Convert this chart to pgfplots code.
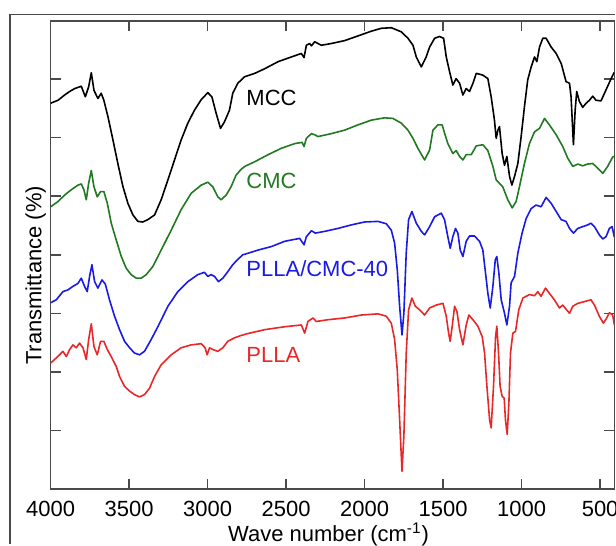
\documentclass[border=0pt]{standalone}
\usepackage{fontspec}
\setmainfont{Liberation Sans}
\usepackage{pgfplots}
\pgfplotsset{compat=1.18}
\definecolor{ftgreen}{HTML}{217A21}
\definecolor{ftblue}{HTML}{1A1AE6}
\definecolor{ftred}{HTML}{E82828}
\definecolor{axgray}{HTML}{4A4A4A}

\begin{document}
\begin{tikzpicture}
\begin{axis}[
 scale only axis,width=282.15pt,height=234.3pt,
 x dir=reverse,xmin=409,xmax=4000,ymin=0,ymax=8,
 xtick={500,1000,...,4000},ytick={1,...,7},yticklabels={},
 tick align=inside,major tick length=5pt,
 axis line style={draw=axgray,line width=0.85pt},
 tick style={draw=axgray,line width=0.75pt},
 font=\fontsize{11}{13}\selectfont,
 /pgf/number format/assume math mode=true,
 /pgf/number format/set thousands separator={},
 xticklabel style={anchor=base,yshift=-14pt,overlay},
 xlabel={Wave number (cm\textsuperscript{-1})},
 ylabel={Transmittance (\%)},
 xlabel style={at={(axis description cs:0.493,-0.1118)},anchor=base,overlay},
 ylabel style={at={(axis description cs:-0.0166,0.456)},anchor=base},
 every axis plot/.append style={line width=0.8pt,line join=round}]
% MCC
\addplot[black] coordinates {
 (4000,6.59) (3953,6.64) (3911,6.73) (3879,6.79) (3847,6.84) (3805,6.88)
 (3779,6.70) (3758,6.87) (3741,7.11) (3724,6.81) (3699,6.67) (3678,6.76)
 (3661,6.64) (3635,6.36) (3603,5.96) (3572,5.56) (3540,5.17) (3508,4.88)
 (3476,4.68) (3444,4.57) (3413,4.56) (3381,4.60) (3338,4.68) (3296,4.94)
 (3253,5.28) (3211,5.62) (3169,5.96) (3126,6.25) (3084,6.47) (3041,6.65)
 (2999,6.77) (2973,6.70) (2946,6.42) (2918,6.16) (2893,6.27) (2861,6.47)
 (2840,6.76) (2808,6.93) (2766,7.04) (2700,7.10) (2636,7.18) (2551,7.30)
 (2467,7.38) (2403,7.44) (2386,7.37) (2371,7.58) (2350,7.61) (2339,7.57)
 (2318,7.64) (2276,7.58) (2212,7.61) (2127,7.66) (2042,7.74) (1958,7.82)
 (1894,7.87) (1830,7.88) (1767,7.81) (1724,7.70) (1692,7.58) (1671,7.38)
 (1639,7.21) (1608,7.38) (1586,7.55) (1554,7.70) (1523,7.73) (1497,7.70)
 (1480,7.38) (1459,7.13) (1438,6.90) (1417,7.01) (1395,6.93) (1374,6.73)
 (1353,6.84) (1332,6.79) (1310,6.93) (1289,7.10) (1247,7.07) (1215,7.01)
 (1194,6.70) (1173,6.30) (1162,5.99) (1151,6.13) (1141,6.19) (1124,5.73)
 (1109,5.53) (1094,5.68) (1077,5.34) (1062,5.19) (1045,5.34) (1024,5.56)
 (1003,6.02) (982,6.53) (961,6.99) (939,7.21) (918,7.38) (903,7.30)
 (886,7.55) (865,7.70) (844,7.70) (812,7.55) (780,7.44) (748,7.27)
 (717,6.96) (695,6.93) (685,6.70) (670,5.88) (659,6.47) (649,6.79)
 (632,6.62) (611,6.52) (589,6.59) (568,6.64) (547,6.71) (526,6.64)
 (494,6.63) (462,6.82) (430,7.01) (409,7.12)};
% CMC
\addplot[ftgreen] coordinates {
 (4000,4.82) (3953,4.91) (3911,5.02) (3869,5.11) (3826,5.19) (3805,5.21)
 (3788,5.11) (3773,4.94) (3758,5.22) (3741,5.44) (3724,5.16) (3703,4.99)
 (3682,5.08) (3661,5.08) (3639,4.88) (3614,4.54) (3582,4.25) (3550,3.97)
 (3519,3.77) (3487,3.66) (3455,3.60) (3423,3.60) (3391,3.66) (3349,3.80)
 (3296,4.08) (3232,4.42) (3169,4.77) (3105,5.05) (3041,5.19) (2999,5.24)
 (2967,5.16) (2935,4.99) (2914,4.94) (2882,5.02) (2851,5.16) (2819,5.36)
 (2787,5.46) (2763,5.51) (2700,5.59) (2615,5.71) (2530,5.82) (2445,5.90)
 (2399,5.92) (2386,5.85) (2371,5.99) (2339,6.07) (2318,6.05) (2297,6.02)
 (2212,6.07) (2127,6.13) (2042,6.22) (1958,6.30) (1873,6.34) (1820,6.33)
 (1767,6.25) (1724,6.13) (1692,5.99) (1661,5.82) (1618,5.62) (1586,5.79)
 (1565,6.13) (1533,6.22) (1506,6.22) (1491,6.08) (1470,5.90) (1438,5.73)
 (1417,5.78) (1395,5.68) (1374,5.62) (1353,5.71) (1321,5.71) (1289,5.86)
 (1247,5.88) (1215,5.78) (1183,5.51) (1162,5.28) (1141,5.22) (1120,5.16)
 (1088,4.94) (1060,4.80) (1035,4.91) (1014,5.16) (982,5.56) (950,5.90)
 (918,6.10) (886,6.16) (854,6.33) (823,6.22) (780,6.05) (738,5.85)
 (706,5.65) (674,5.51) (642,5.55) (611,5.52) (579,5.55) (547,5.56)
 (515,5.48) (483,5.39) (452,5.51) (420,5.67) (409,5.68)};
% PLLA/CMC-40
\addplot[ftblue] coordinates {
 (4000,3.18) (3964,3.23) (3922,3.37) (3890,3.40) (3858,3.46) (3826,3.51)
 (3805,3.60) (3784,3.46) (3767,3.37) (3752,3.63) (3737,3.83) (3720,3.54)
 (3699,3.43) (3673,3.57) (3652,3.50) (3625,3.23) (3593,2.95) (3561,2.72)
 (3529,2.52) (3497,2.41) (3466,2.32) (3434,2.29) (3402,2.35) (3360,2.55)
 (3317,2.77) (3253,3.12) (3190,3.37) (3126,3.54) (3063,3.66) (3020,3.70)
 (2999,3.63) (2978,3.66) (2956,3.63) (2931,3.54) (2903,3.60) (2872,3.71)
 (2840,3.83) (2808,3.92) (2776,4.00) (2749,4.02) (2679,4.08) (2594,4.14)
 (2509,4.23) (2414,4.28) (2386,4.17) (2371,4.31) (2339,4.41) (2314,4.37)
 (2254,4.40) (2170,4.45) (2085,4.51) (2000,4.56) (1915,4.57) (1862,4.53)
 (1830,4.42) (1809,4.20) (1792,3.74) (1777,3.12) (1762,2.63) (1750,3.00)
 (1735,4.03) (1720,4.60) (1699,4.74) (1671,4.54) (1639,4.40) (1618,4.34)
 (1586,4.48) (1554,4.65) (1512,4.71) (1491,4.60) (1470,4.31) (1455,4.11)
 (1438,4.31) (1421,4.45) (1406,4.37) (1391,4.08) (1374,3.97) (1353,4.23)
 (1332,4.32) (1300,4.32) (1268,4.23) (1247,4.08) (1230,3.69) (1215,3.34)
 (1200,3.09) (1183,3.46) (1168,3.91) (1158,3.97) (1145,3.69) (1130,3.23)
 (1109,3.00) (1094,2.80) (1077,3.12) (1067,3.52) (1045,3.63) (1024,4.03)
 (997,4.37) (971,4.62) (939,4.79) (908,4.85) (876,4.82) (844,4.98)
 (812,4.88) (780,4.74) (748,4.60) (717,4.57) (695,4.45) (670,4.37)
 (642,4.45) (611,4.48) (579,4.51) (558,4.54) (536,4.48) (505,4.34)
 (483,4.27) (462,4.31) (441,4.45) (424,4.48) (409,4.30)};
% PLLA
\addplot[ftred] coordinates {
 (4000,2.15) (3975,2.21) (3943,2.29) (3922,2.35) (3900,2.26) (3879,2.38)
 (3858,2.46) (3837,2.41) (3816,2.49) (3794,2.41) (3773,2.21) (3758,2.55)
 (3741,2.82) (3724,2.43) (3703,2.29) (3682,2.52) (3661,2.52) (3639,2.38)
 (3614,2.26) (3582,2.09) (3561,1.92) (3529,1.75) (3497,1.67) (3466,1.61)
 (3434,1.57) (3402,1.61) (3370,1.72) (3338,1.92) (3296,2.12) (3232,2.29)
 (3169,2.41) (3105,2.46) (3041,2.48) (3016,2.41) (3003,2.29) (2988,2.41)
 (2967,2.38) (2935,2.35) (2903,2.41) (2872,2.52) (2829,2.58) (2787,2.62)
 (2749,2.65) (2636,2.72) (2509,2.77) (2403,2.80) (2382,2.66) (2361,2.86)
 (2329,2.92) (2308,2.86) (2233,2.89) (2127,2.92) (2021,2.97) (1915,2.99)
 (1862,2.95) (1830,2.83) (1809,2.55) (1792,2.03) (1777,1.18) (1762,0.30)
 (1750,0.90) (1735,2.32) (1720,3.06) (1699,3.26) (1677,3.12) (1650,3.06)
 (1618,2.97) (1586,3.09) (1544,3.14) (1501,3.17) (1480,2.95) (1465,2.66)
 (1455,2.52) (1442,2.78) (1427,3.12) (1412,3.03) (1395,2.72) (1374,2.46)
 (1353,2.80) (1336,2.97) (1310,2.89) (1279,2.78) (1251,2.60) (1236,2.32)
 (1221,1.75) (1204,1.18) (1194,1.04) (1179,1.75) (1166,2.60) (1158,2.78)
 (1147,2.32) (1137,1.75) (1124,1.58) (1111,1.55) (1103,1.18) (1092,0.93)
 (1081,1.47) (1071,2.32) (1056,2.66) (1039,2.69) (1018,3.06) (992,3.26)
 (950,3.32) (918,3.30) (897,3.37) (876,3.29) (848,3.43) (823,3.34)
 (791,3.23) (759,3.09) (738,3.14) (717,3.07) (695,3.00) (674,3.12)
 (642,3.17) (600,3.20) (558,3.23) (536,3.14) (505,2.95) (479,2.83)
 (458,2.92) (441,3.01) (420,2.97) (409,2.80)};
\node[anchor=base west,inner sep=0pt] at (axis cs:2755,6.55) {MCC};
\node[anchor=base west,inner sep=0pt,text=ftgreen] at (axis cs:2755,5.14) {CMC};
\node[anchor=base west,inner sep=0pt,text=ftblue] at (axis cs:2755,3.63) {PLLA/CMC-40};
\node[anchor=base west,inner sep=0pt,text=ftred] at (axis cs:2755,2.165) {PLLA};
\end{axis}
% frame of the figure, cut by the edge of the page
\draw[axgray,line width=0.6pt] (-20.35pt,-27.85pt) -- (-20.35pt,237.4pt) -- (282.65pt,237.4pt);
\path (-25.35pt,-27.85pt) rectangle (282.65pt,244.65pt);
\end{tikzpicture}
\end{document}
